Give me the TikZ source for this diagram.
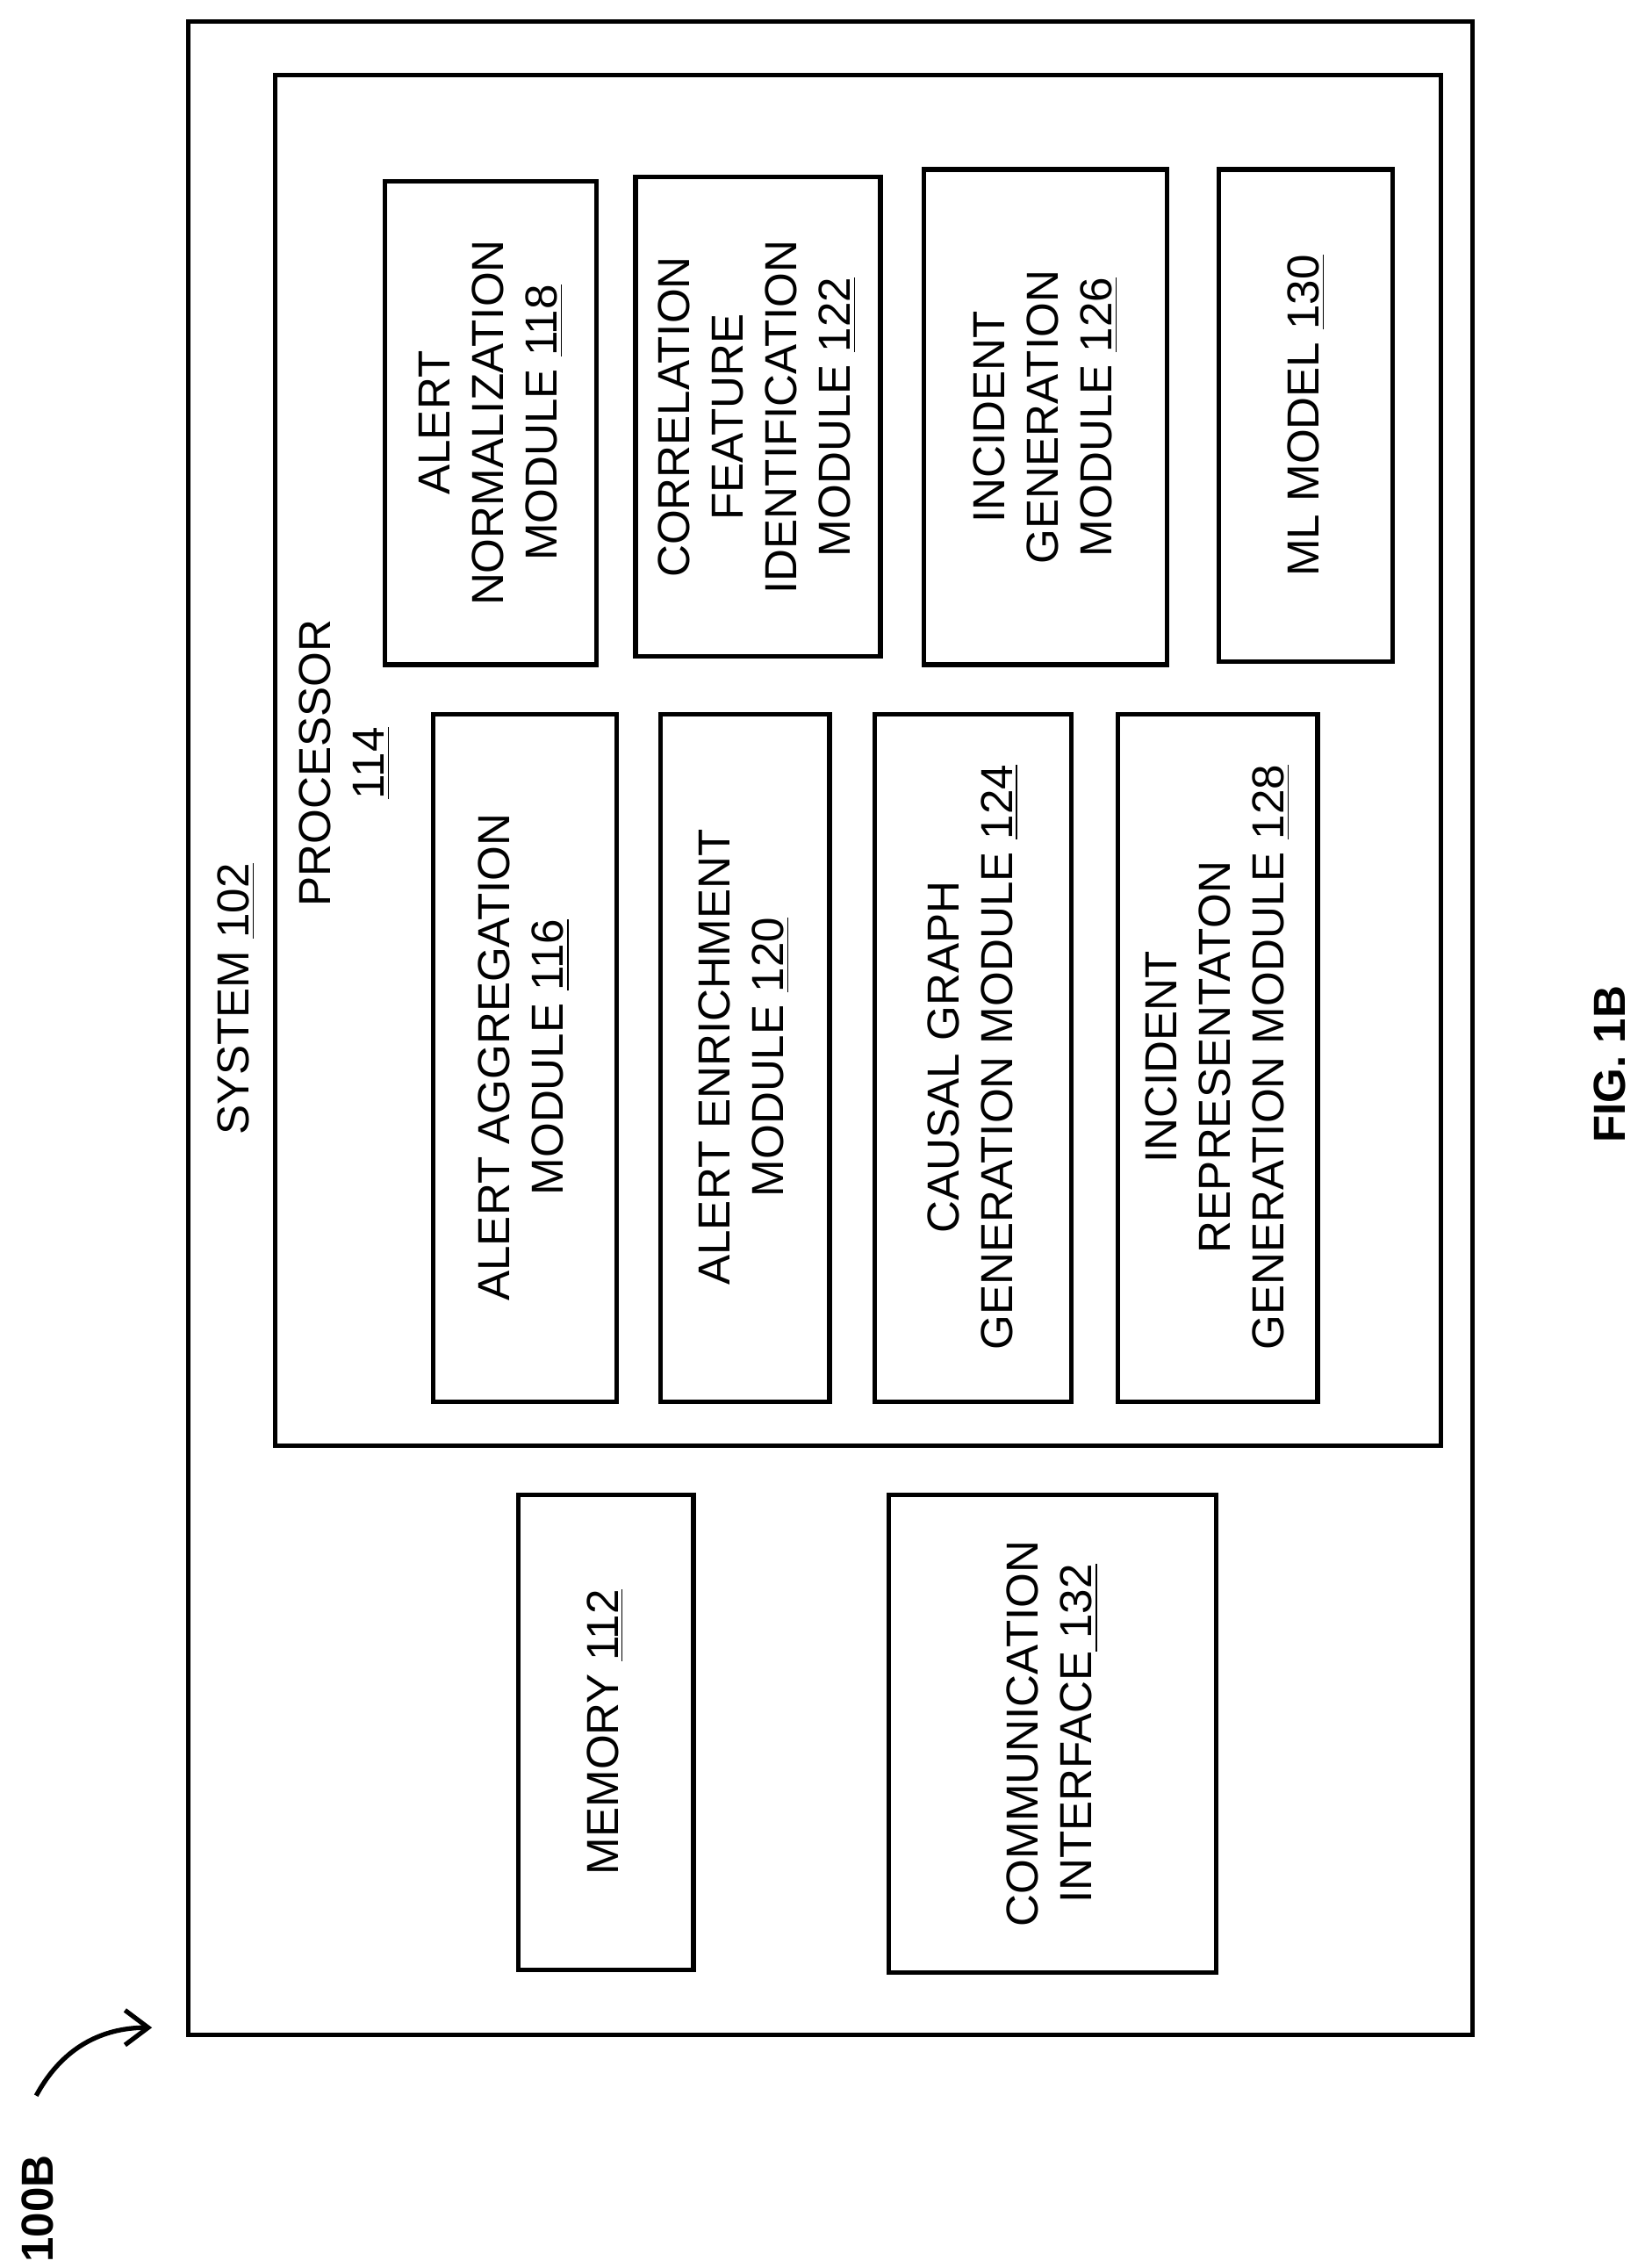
\documentclass[tikz,border=0pt]{standalone}
\usepackage{fontspec}
\setmainfont{Liberation Sans}
\usetikzlibrary{arrows.meta}
\begin{document}
\begin{tikzpicture}[x=0.5pt,y=-0.5pt,
  box/.style={draw,line width=1.6pt},
  lbl/.style={rotate=90,align=center,font=\fontsize{15.5}{18.5}\selectfont,inner sep=0pt}]
\useasboundingbox (0,0) rectangle (1136,1566);
\draw[box] (130,15) rectangle (1017,1405);
\draw[box] (190,52) rectangle (995,998);
\draw[box] (266,125) rectangle (412,459);
\node[lbl] (n118) at (339,292) {ALERT\\NORMALIZATION\\MODULE \underline{118}};
\draw[box] (439,122) rectangle (608,453);
\node[lbl] (n122) at (523,288) {CORRELATION\\FEATURE\\IDENTIFICATION\\MODULE \underline{122}};
\draw[box] (638,117) rectangle (806,459);
\node[lbl] (n126) at (722,288) {INCIDENT\\GENERATION\\MODULE \underline{126}};
\draw[box] (842,117) rectangle (962,457);
\node[lbl] (n130) at (902,287) {ML MODEL \underline{130}};
\draw[box] (299,493) rectangle (426,968);
\node[lbl] (n116) at (362,730) {ALERT AGGREGATION\\MODULE \underline{116}};
\draw[box] (456,493) rectangle (573,968);
\node[lbl] (n120) at (514,730) {ALERT ENRICHMENT\\MODULE \underline{120}};
\draw[box] (604,493) rectangle (740,968);
\node[lbl] (n124) at (672,730) {CAUSAL GRAPH\\GENERATION MODULE \underline{124}};
\draw[box] (772,493) rectangle (910,968);
\node[lbl] (n128) at (841,730) {INCIDENT\\REPRESENTATON\\GENERATION MODULE \underline{128}};
\draw[box] (358,1032) rectangle (479,1360);
\node[lbl] (n112) at (418,1196) {MEMORY \underline{112}};
\draw[box] (614,1032) rectangle (840,1362);
\node[lbl] (n132) at (727,1197) {COMMUNICATION\\INTERFACE\underline{ 132}};
\node[lbl] (sys) at (163,690) {SYSTEM \underline{102}};
\node[lbl] (proc) at (238,527) {PROCESSOR\\\underline{114}};
\node[lbl,font=\bfseries\fontsize{15.5}{18.5}\selectfont] (fig) at (1112,735) {FIG. 1B};
\node[lbl,font=\bfseries\fontsize{15.5}{18.5}\selectfont] (lab) at (26,1525) {100B};
\coordinate (s) at (25,1447);
\coordinate (t) at (105,1400);
\draw[line width=1.6pt,-{Straight Barb[length=8pt,width=12pt]}] (s) .. controls (45,1410) and (75,1400) .. (t);
\end{tikzpicture}
\end{document}
